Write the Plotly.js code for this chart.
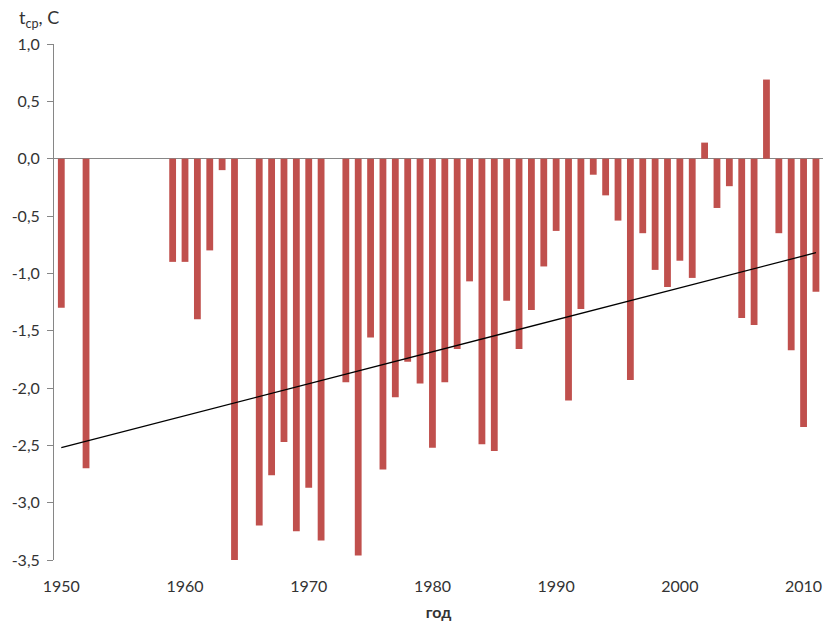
<!DOCTYPE html>
<html>
<head>
<meta charset="utf-8">
<script src="https://cdn.plot.ly/plotly-3.0.1.min.js"></script>
<style>html,body{margin:0;padding:0;background:#fff;}#chart{width:826px;height:624px;}</style>
</head>
<body>
<div id="chart"></div>
<script>
const years = [1950, 1952, 1959, 1960, 1961, 1962, 1963, 1964, 1966, 1967, 1968, 1969, 1970, 1971,
  1973, 1974, 1975, 1976, 1977, 1978, 1979, 1980, 1981, 1982, 1983, 1984, 1985, 1986, 1987, 1988,
  1989, 1990, 1991, 1992, 1993, 1994, 1995, 1996, 1997, 1998, 1999, 2000, 2001, 2002, 2003, 2004,
  2005, 2006, 2007, 2008, 2009, 2010, 2011];
const temps = [-1.30, -2.70, -0.90, -0.90, -1.40, -0.80, -0.10, -3.51, -3.20, -2.76, -2.47, -3.25, -2.87, -3.33,
  -1.95, -3.46, -1.56, -2.71, -2.08, -1.77, -1.96, -2.52, -1.95, -1.66, -1.07, -2.49, -2.55, -1.24, -1.66, -1.32,
  -0.94, -0.63, -2.11, -1.31, -0.14, -0.32, -0.54, -1.93, -0.65, -0.97, -1.12, -0.89, -1.04, 0.14, -0.43, -0.24,
  -1.39, -1.45, 0.69, -0.65, -1.67, -2.34, -1.16];
const trendYears = [1950, 2011];
const trendValues = [-2.52, -0.82];
const xTicks = [1950, 1960, 1970, 1980, 1990, 2000, 2010];
const yTicks = [1.0, 0.5, 0.0, -0.5, -1.0, -1.5, -2.0, -2.5, -3.0, -3.5];
const yTickLabels = ['1,0', '0,5', '0,0', '-0,5', '-1,0', '-1,5', '-2,0', '-2,5', '-3,0', '-3,5'];

const font = 'Lato, "Open Sans", sans-serif';
const txt = '#333333';

const data = [
  {type: 'bar', x: years, y: temps, width: 0.55,
   marker: {color: '#C0504D', line: {width: 0}}, hoverinfo: 'x+y'},
  {type: 'scatter', mode: 'lines', x: trendYears, y: trendValues,
   line: {color: '#000000', width: 1.3}, hoverinfo: 'skip'}
];

const layout = {
  width: 826, height: 624,
  margin: {l: 54, r: 3, t: 44, b: 64},
  paper_bgcolor: '#ffffff', plot_bgcolor: '#ffffff',
  showlegend: false,
  font: {family: font, size: 16, color: txt},
  xaxis: {
    range: [1949.41, 2011.57],
    tickvals: xTicks, ticktext: xTicks.map(String),
    ticks: '', showgrid: false, zeroline: false, showline: false,
    ticklabelstandoff: 15,
    tickfont: {family: font, size: 16, color: txt},
    title: {text: '<b>год</b>', font: {family: font, size: 16, color: txt}, standoff: 12}
  },
  yaxis: {
    range: [-3.5, 1.0],
    tickvals: yTicks, ticktext: yTickLabels,
    ticks: 'outside', ticklen: 6, tickcolor: '#868686', tickwidth: 1,
    showline: true, linecolor: '#868686', linewidth: 1,
    showgrid: false,
    zeroline: true, zerolinecolor: '#868686', zerolinewidth: 1,
    ticklabelstandoff: 4,
    tickfont: {family: font, size: 16, color: txt}
  },
  annotations: [
    {text: 't<sub>ср</sub>, С', xref: 'paper', yref: 'paper', x: 0, xanchor: 'left',
     xshift: -37, y: 1, yanchor: 'bottom', yshift: 11, showarrow: false,
     font: {family: font, size: 18, color: txt}}
  ]
};

Plotly.newPlot('chart', data, layout, {displayModeBar: false, staticPlot: true});
</script>
</body>
</html>
